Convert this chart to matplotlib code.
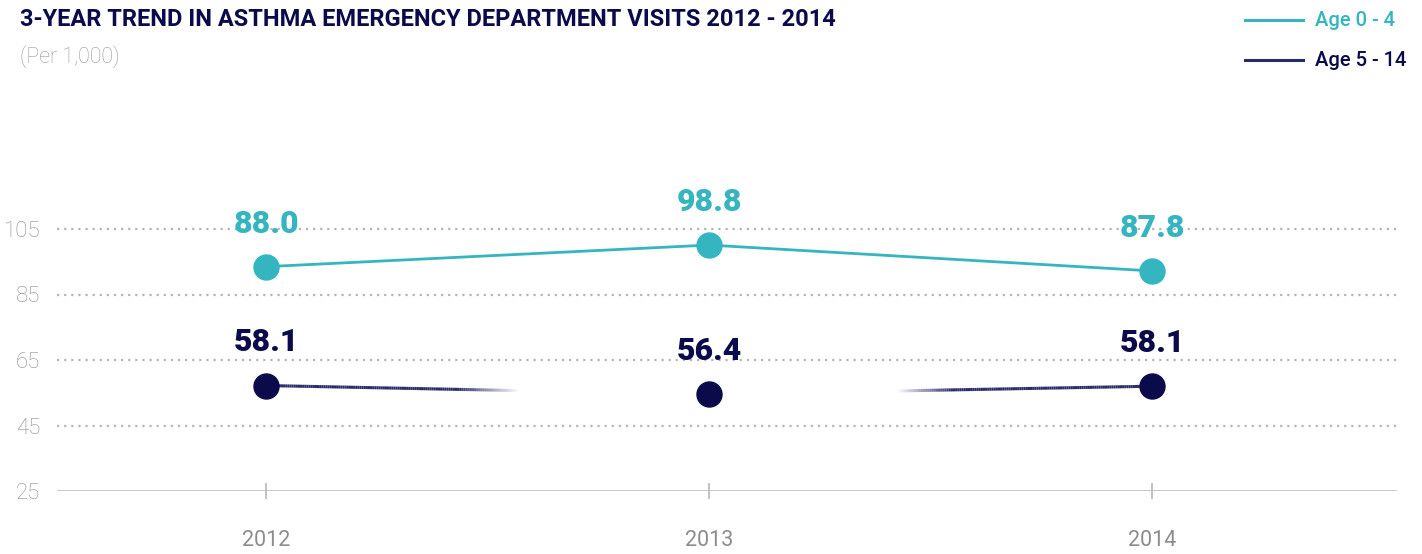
import numpy as np
import matplotlib
matplotlib.use("Agg")
import matplotlib.pyplot as plt
from matplotlib.collections import LineCollection
from matplotlib.colors import to_rgba

plt.rcParams['font.family'] = ['Roboto', 'DejaVu Sans']

# ---- data ----
years = ["2012", "2013", "2014"]
age_0_4_pos = [93.5, 100.1, 92.2]        # plotted marker positions
age_0_4_labels = ["88.0", "98.8", "87.8"]
age_5_14_pos = [57.2, 54.5, 57.0]
age_5_14_labels = ["58.1", "56.4", "58.1"]
y_ticks = [25, 45, 65, 85, 105]

CYAN = "#35b5c0"
NAVY = "#0b0a4a"
NAVY_LINE = "#2b2b6b"
GRAY = "#8c8c8c"

fig = plt.figure(figsize=(14.22, 5.54), dpi=100)
ax = fig.add_axes([57/1422, 1-491/554, (1397-57)/1422, (491-163.5)/554])
x = np.arange(len(years))
ax.set_xlim(-0.472, 2.553)
ax.set_ylim(25, 125)

# gridlines
for yt in y_ticks[1:]:
    ax.axhline(yt, color="#b5b5b5", lw=1.6, ls=(0, (1, 2.2)), zorder=1)
ax.axhline(25, color="#c4c4c4", lw=2, zorder=1)

for s in ax.spines.values():
    s.set_visible(False)

ax.set_yticks(y_ticks)
ax.set_yticklabels([str(v) for v in y_ticks], color=GRAY, fontsize=16, fontweight="light")
ax.tick_params(axis="y", length=0, pad=12)
ax.set_xticks(x)
ax.set_xticklabels(years, color=GRAY, fontsize=15.5)
ax.tick_params(axis="x", direction="inout", length=12, width=1.2, color="#b8b8b8", pad=22)

# cyan series
ax.plot(x, age_0_4_pos, color=CYAN, lw=2, zorder=3)
ax.plot(x, age_0_4_pos, 'o', color=CYAN, ms=18, zorder=4)

# navy series with fading line segments
def faded(x0, y0, x1, y1, solid_frac, end_frac, n=120):
    t = np.linspace(0, end_frac, n)
    xs = x0 + (x1 - x0) * t
    ys = y0 + (y1 - y0) * t
    pts = np.column_stack([xs, ys]).reshape(-1, 1, 2)
    segs = np.concatenate([pts[:-1], pts[1:]], axis=1)
    tm = (t[:-1] + t[1:]) / 2
    alpha = np.clip((end_frac - tm) / (end_frac - solid_frac), 0, 1)
    base = np.array(to_rgba(NAVY_LINE))
    cols = np.tile(base, (len(segs), 1))
    cols[:, 3] = alpha
    lc = LineCollection(segs, colors=cols, linewidths=2.2, zorder=3, capstyle="butt")
    ax.add_collection(lc)

faded(x[0], age_5_14_pos[0], x[1], age_5_14_pos[1], 0.43, 0.57)
faded(x[2], age_5_14_pos[2], x[1], age_5_14_pos[1], 0.45, 0.575)
ax.plot(x, age_5_14_pos, 'o', color=NAVY, ms=18, zorder=4)

for xi, v, lab in zip(x, age_0_4_pos, age_0_4_labels):
    ax.annotate(lab, (xi, v), xytext=(0, 31), textcoords="offset points",
                ha="center", va="center", color=CYAN, fontsize=23, fontweight="black", zorder=5)
for xi, v, lab in zip(x, age_5_14_pos, age_5_14_labels):
    ax.annotate(lab, (xi, v), xytext=(0, 31), textcoords="offset points",
                ha="center", va="center", color=NAVY, fontsize=23, fontweight="black", zorder=5)

# title & subtitle
fig.text(20/1422, 1-20/554, "3-YEAR TREND IN ASTHMA EMERGENCY DEPARTMENT VISITS 2012 - 2014",
         ha="left", va="center", color=NAVY, fontsize=17, fontweight="bold")
fig.text(20/1422, 1-57/554, "(Per 1,000)", ha="left", va="center", color="#999999",
         fontsize=15.5, fontweight="light")

# legend
for yy, col, lab, lcol in [(20, CYAN, "Age 0 - 4", CYAN), (60, NAVY_LINE, "Age 5 - 14", NAVY)]:
    fig.add_artist(plt.Line2D([1245/1422, 1303/1422], [1-yy/554, 1-yy/554], color=col, lw=2.2))
    fig.text(1315/1422, 1-yy/554, lab, ha="left", va="center", color=lcol, fontsize=14.5,
             fontweight="medium")

fig.savefig("out.png", dpi=100)
